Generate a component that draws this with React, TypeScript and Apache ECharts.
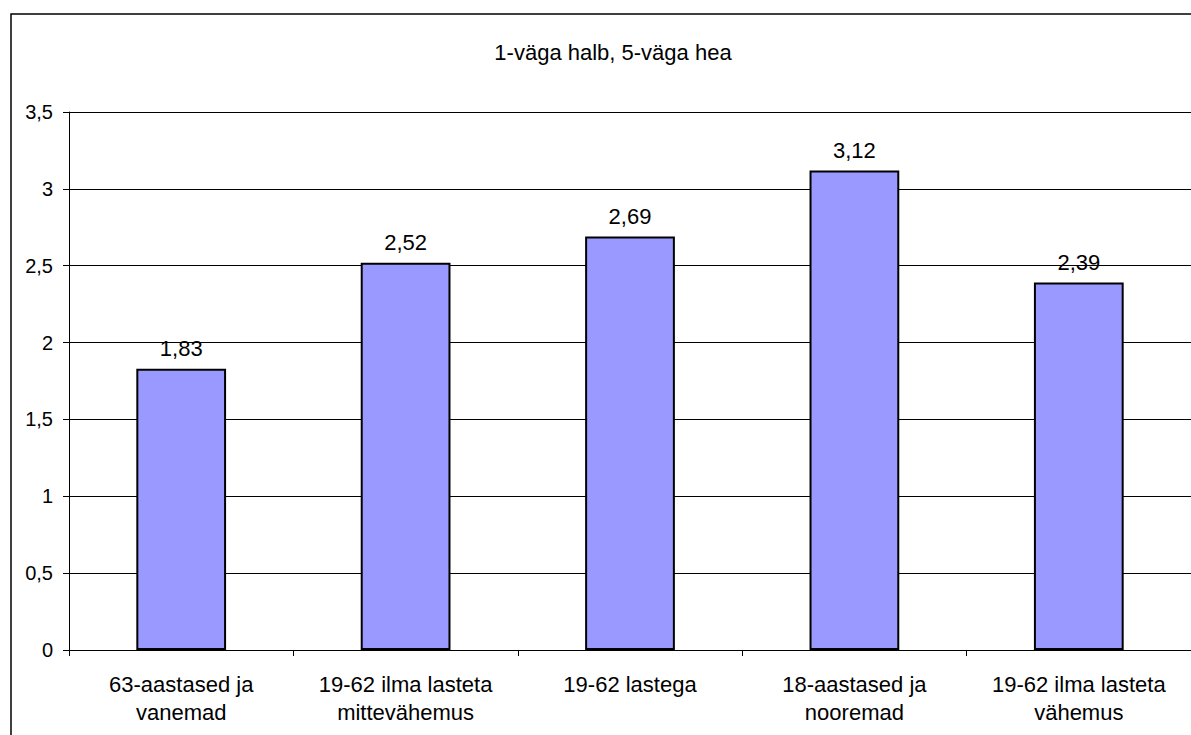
import React, { useEffect, useRef } from "react";
import * as echarts from "echarts";

const categories = [
  "63-aastased ja\nvanemad",
  "19-62 ilma lasteta\nmittevähemus",
  "19-62 lastega",
  "18-aastased ja\nnooremad",
  "19-62 ilma lasteta\nvähemus",
];
const values = [1.83, 2.52, 2.69, 3.12, 2.39];
const titleText = "1-väga halb, 5-väga hea";

const fmt = (v: number) => String(v).replace(".", ",");
const FONT = "Arial, 'Liberation Sans', sans-serif";

export default function App() {
  const ref = useRef<HTMLDivElement>(null);
  useEffect(() => {
    if (!ref.current) return;
    const chart = echarts.init(ref.current, null, { renderer: "svg" });
    chart.setOption({
      animation: false,
      backgroundColor: "#ffffff",
      textStyle: { fontFamily: FONT },
      title: {
        text: titleText,
        left: 608,
        top: 36,
        textAlign: "center",
        textStyle: { fontFamily: FONT, fontSize: 22, fontWeight: "normal", color: "#000" },
      },
      graphic: [
        {
          type: "rect",
          shape: { x: 11, y: 14, width: 1300, height: 900 },
          style: { fill: "none", stroke: "#000", lineWidth: 1.5 },
          z: 0,
          silent: true,
        },
      ],
      grid: { left: 69, top: 112, width: 1123, height: 538, containLabel: false },
      xAxis: {
        type: "category",
        data: categories,
        axisLine: { show: true, lineStyle: { color: "#000", width: 1 } },
        axisTick: { show: true, alignWithLabel: false, length: 6, lineStyle: { color: "#000" } },
        axisLabel: {
          interval: 0,
          margin: 20,
          fontSize: 22,
          lineHeight: 28,
          color: "#000",
          fontFamily: FONT,
        },
      },
      yAxis: {
        type: "value",
        min: 0,
        max: 3.5,
        interval: 0.5,
        axisLine: { show: true, lineStyle: { color: "#000", width: 1 } },
        axisTick: { show: true, length: 6, lineStyle: { color: "#000" } },
        splitLine: { show: true, lineStyle: { color: "#000", width: 1 } },
        axisLabel: {
          margin: 16,
          fontSize: 20,
          color: "#000",
          fontFamily: FONT,
          formatter: (v: number) => fmt(v),
        },
      },
      series: [
        {
          type: "bar",
          data: values,
          barWidth: "40%",
          itemStyle: { color: "#9999FF", borderColor: "#000", borderWidth: 2 },
          label: {
            show: true,
            position: "top",
            distance: 9,
            fontSize: 22,
            color: "#000",
            fontFamily: FONT,
            formatter: (p: any) => fmt(p.value),
          },
        },
      ],
    });
    return () => chart.dispose();
  }, []);
  return (
    <div
      ref={ref}
      style={{ position: "fixed", left: 0, top: 0, width: 1191, height: 735 }}
    />
  );
}
